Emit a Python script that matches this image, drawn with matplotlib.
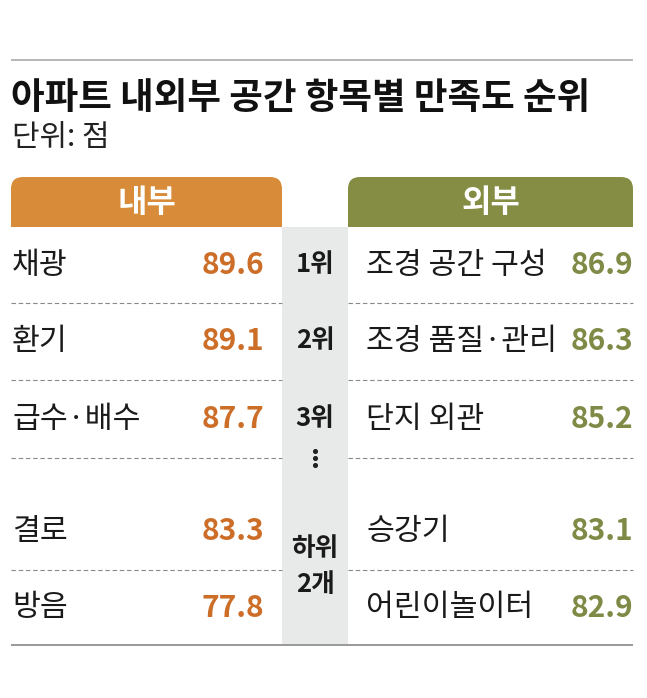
import matplotlib
matplotlib.use("Agg")
import matplotlib.pyplot as plt
from matplotlib.patches import FancyBboxPatch, Rectangle

plt.rcParams['font.family'] = ['Noto Sans CJK KR', 'DejaVu Sans']

# ---- data ----
title = '아파트 내외부 공간 항목별 만족도 순위'
unit = '단위: 점'
inner_header = '내부'
outer_header = '외부'
inner_items = ['채광', '환기', '급수·배수', '결로', '방음']
inner_scores = [89.6, 89.1, 87.7, 83.3, 77.8]
outer_items = ['조경 공간 구성', '조경 품질·관리', '단지 외관', '승강기', '어린이놀이터']
outer_scores = [86.9, 86.3, 85.2, 83.1, 82.9]
rank_labels = ['1위', '2위', '3위']
bottom_label = ['하위', '2개']

# ---- style ----
ORANGE_HDR = '#D88B38'
GREEN_HDR = '#858C43'
ORANGE_TXT = '#CC6E28'
GREEN_TXT = '#7E8A45'
GRAY_COL = '#E8EAEA'
W, H = 647, 698

fig = plt.figure(figsize=(W / 100, H / 100), dpi=100)
ax = fig.add_axes([0, 0, 1, 1])
ax.set_xlim(0, W)
ax.set_ylim(H, 0)
ax.axis('off')

# layout
L0, L1 = 11, 282      # inner column
R0, R1 = 348, 633     # outer column
hdr_top, hdr_bot = 177, 227
row_y = [265, 341, 419, 531, 608]
sep_y = [303, 380, 458, 570]
bottom_y = 645

# top rule
ax.plot([L0, R1], [60, 60], color='#AAAAAA', lw=1.2, solid_capstyle='butt')
ax.text(11, 98, title, fontsize=26.3, fontweight='bold', ha='left', va='center', color='#111111')
ax.text(12, 138, unit, fontsize=21.5, ha='left', va='center', color='#222222')

# headers
for x0, x1, col, lab in [(L0, L1, ORANGE_HDR, inner_header), (R0, R1, GREEN_HDR, outer_header)]:
    ax.add_patch(FancyBboxPatch((x0, hdr_top), x1 - x0, hdr_bot - hdr_top,
                                boxstyle='round,pad=0,rounding_size=12', fc=col, ec='none'))
    ax.add_patch(Rectangle((x0, (hdr_top + hdr_bot) / 2), x1 - x0, (hdr_bot - hdr_top) / 2,
                           fc=col, ec='none'))
    ax.text((x0 + x1) / 2, (hdr_top + hdr_bot) / 2 + 1, lab, fontsize=23, fontweight='bold',
            color='white', ha='center', va='center')

# gray center column
ax.add_patch(Rectangle((L1, hdr_bot), R0 - L1, bottom_y - hdr_bot, fc=GRAY_COL, ec='none'))
mid_x = (L1 + R0) / 2

# separators
for y in sep_y:
    ax.plot([L0, L1], [y, y], color='#888888', lw=0.8, ls=(0, (4, 2.5)))
    ax.plot([R0, R1], [y, y], color='#888888', lw=0.8, ls=(0, (4, 2.5)))
ax.plot([L0, R1], [bottom_y, bottom_y], color='#999999', lw=1.4, solid_capstyle='butt')

# rows
for i, (lab, val) in enumerate(zip(inner_items, inner_scores)):
    ax.text(12, row_y[i], lab, fontsize=21.8, ha='left', va='center', color='#1a1a1a')
    ax.text(264, row_y[i], f'{val:.1f}', fontsize=21.5, fontweight='bold',
            ha='right', va='center', color=ORANGE_TXT)
for i, (lab, val) in enumerate(zip(outer_items, outer_scores)):
    ax.text(366, row_y[i], lab, fontsize=21.8, ha='left', va='center', color='#1a1a1a')
    ax.text(633, row_y[i], f'{val:.1f}', fontsize=21.5, fontweight='bold',
            ha='right', va='center', color=GREEN_TXT)

for i, r in enumerate(rank_labels):
    ax.text(mid_x, row_y[i], r, fontsize=18.5, fontweight='bold', ha='center', va='center',
            color='#1a1a1a')

# vertical ellipsis
ax.scatter([mid_x] * 3, [451, 458, 465], s=7, color='#222222', zorder=5)

ax.text(mid_x, 549, bottom_label[0], fontsize=18.5, fontweight='bold', ha='center', va='center',
        color='#1a1a1a')
ax.text(mid_x, 585, bottom_label[1], fontsize=18.5, fontweight='bold', ha='center', va='center',
        color='#1a1a1a')

fig.savefig('out.png', dpi=100)
